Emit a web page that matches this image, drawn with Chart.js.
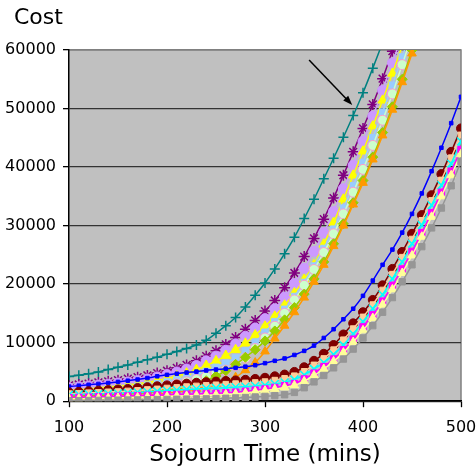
<!DOCTYPE html>
<html lang="en">
<head>
  <meta charset="UTF-8">
  <title>Cost vs Sojourn Time</title>
  <script src="https://cdn.jsdelivr.net/npm/chart.js"></script>
  <style>
    html, body { margin: 0; padding: 0; background: #fff; }
  </style>
</head>
<body>
  <canvas id="grafico" width="476" height="469"></canvas>
<script>
  // sojourn time, minutes
  const tempos = [100, 110, 120, 130, 140, 150, 160, 170, 180, 190,
    200, 210, 220, 230, 240, 250, 260, 270, 280, 290,
    300, 310, 320, 330, 340, 350, 360, 370, 380, 390,
    400, 410, 420, 430, 440, 450, 460, 470, 480, 490, 500];
  const ticksX = [100, 200, 300, 400, 500];
  const ticksY = [0, 10000, 20000, 30000, 40000, 50000, 60000];

  // early rising group (lines leave the top of the plot)
  const teal = [4200, 4450, 4700, 5000, 5400, 5800, 6200, 6650, 7100, 7500,
    8000, 8500, 9000, 9600, 10400, 11600, 12900, 14300, 16100, 18100,
    20200, 22600, 25200, 28000, 31200, 34500, 38000, 41500, 45100, 48800,
    52700, 56900, 61300, 66000];
  const roxo = [2700, 2850, 3000, 3200, 3400, 3600, 3850, 4100, 4400, 4800,
    5200, 5700, 6200, 6900, 7700, 8600, 9700, 10900, 12300, 13800,
    15400, 17200, 19400, 21900, 24700, 27800, 31100, 34700, 38600, 42600,
    46600, 50700, 55100, 59800, 64500];
  const lavanda = [2300, 2450, 2600, 2750, 2900, 3100, 3300, 3550, 3800, 4150,
    4550, 5000, 5500, 6100, 6900, 7700, 8700, 9800, 11100, 12500,
    14100, 15800, 17800, 20100, 22700, 25600, 28800, 32400, 36300, 40300,
    44400, 48700, 53100, 57800, 62600];
  const amarelo = [1900, 2000, 2150, 2300, 2450, 2600, 2800, 3000, 3250, 3550,
    3900, 4300, 4800, 5400, 6100, 6900, 7800, 8800, 9900, 11300,
    12800, 14500, 16400, 18500, 20800, 23300, 26800, 30500, 34500, 38600,
    42700, 47000, 51400, 56000, 60700, 65500];
  const azulClaro = [1600, 1700, 1800, 1900, 2050, 2200, 2350, 2550, 2750, 3000,
    3300, 3650, 4050, 4550, 5100, 5800, 6500, 7400, 8600, 10100,
    11800, 13600, 15700, 17900, 20300, 23100, 26100, 29400, 33000, 36800,
    40800, 45000, 49400, 54000, 58800, 63700];
  const menta = [1300, 1350, 1400, 1500, 1600, 1700, 1850, 2000, 2200, 2400,
    2650, 2950, 3300, 3700, 4200, 4800, 5300, 6100, 7400, 9000,
    10800, 12800, 15000, 17300, 19800, 22500, 25400, 28600, 32000, 35700,
    39600, 43700, 48000, 52500, 57500, 62500];
  const verde = [900, 950, 1000, 1050, 1100, 1200, 1300, 1400, 1550, 1700,
    1900, 2150, 2500, 2900, 3500, 4300, 5200, 6300, 7500, 8800,
    10300, 12000, 13900, 16000, 18300, 20900, 23800, 26900, 30300, 33900,
    37700, 41700, 45900, 50300, 55000, 60000, 65000];
  const laranja = [600, 620, 650, 700, 750, 800, 850, 950, 1050, 1200,
    1350, 1550, 1800, 2100, 2500, 2950, 3500, 4100, 5300, 6600,
    8500, 10700, 12900, 15200, 17700, 20400, 23300, 26500, 30000, 33600,
    37300, 41300, 45400, 49800, 54500, 59400, 64400];

  // late rising group
  const azul = [2500, 2650, 2800, 2950, 3100, 3300, 3500, 3700, 3950, 4250,
    4500, 4700, 4900, 5050, 5250, 5400, 5550, 5700, 5900, 6150,
    6500, 6900, 7300, 7900, 8600, 9500, 10800, 12300, 14000, 15800,
    18000, 20600, 23300, 25900, 28800, 32000, 35500, 39300, 43300, 47500,
    52000];
  const vinho = [1500, 1600, 1700, 1800, 1900, 2000, 2100, 2250, 2400, 2550,
    2700, 2850, 3000, 3150, 3250, 3350, 3450, 3550, 3650, 3800,
    4000, 4250, 4550, 5000, 5800, 6900, 8100, 9600, 11400, 13300,
    15200, 17300, 19800, 22600, 25500, 28600, 31800, 35200, 38800, 42600,
    46600];
  const pessego = [1300, 1350, 1450, 1500, 1600, 1650, 1750, 1850, 2000, 2100,
    2250, 2350, 2500, 2600, 2700, 2800, 2900, 3000, 3100, 3200,
    3350, 3600, 3900, 4350, 5100, 6200, 7300, 8800, 10500, 12400,
    14400, 16500, 19000, 21700, 24600, 27700, 30900, 34300, 37800, 41600,
    45500];
  const ciano = [1100, 1150, 1200, 1250, 1300, 1350, 1400, 1500, 1600, 1700,
    1800, 1900, 2000, 2100, 2200, 2250, 2300, 2400, 2500, 2600,
    2750, 2950, 3200, 3700, 4500, 5500, 6600, 8000, 9600, 11500,
    13600, 15800, 18200, 20900, 23800, 26900, 30100, 33500, 36900, 40600,
    44400];
  const magenta = [600, 650, 700, 750, 800, 850, 900, 950, 1000, 1050,
    1100, 1150, 1200, 1250, 1300, 1350, 1450, 1550, 1700, 1900,
    2100, 2350, 2650, 3000, 3800, 4800, 5900, 7200, 8800, 10600,
    12700, 14800, 17100, 19800, 22600, 25600, 28800, 32200, 35700, 39300,
    43000];
  const amareloClaro = [400, 420, 450, 480, 520, 560, 600, 650, 700, 750,
    800, 850, 900, 950, 1000, 1050, 1150, 1250, 1400, 1600,
    1800, 2050, 2350, 2700, 3400, 4400, 5500, 6800, 8300, 10100,
    12100, 14200, 16500, 19100, 21900, 24900, 28100, 31500, 35000, 38600,
    42200];
  const cinza = [100, 100, 120, 140, 160, 180, 200, 220, 250, 280,
    300, 330, 360, 380, 400, 450, 500, 560, 630, 720,
    820, 950, 1100, 1500, 2300, 3300, 4400, 5700, 7200, 8900,
    10800, 12900, 15200, 17700, 20400, 23300, 26400, 29600, 33000, 36800,
    41000];

  // arrow annotation, in data units
  const setaInicio = [345, 58300];
  const setaFim = [389, 50600];

  function pontos(valores) {
    return valores.map((v, i) => ({ x: tempos[i], y: v }));
  }

  function serie(valores, cor, estilo, raio, preenchimento, borda) {
    const fino = estilo === 'cross' || estilo === 'crossRot' || estilo === 'star';
    return {
      data: pontos(valores),
      borderColor: cor,
      borderWidth: 1.5,
      pointStyle: estilo,
      pointRadius: raio,
      pointBackgroundColor: preenchimento || cor,
      pointBorderColor: borda || cor,
      pointBorderWidth: fino ? 1.5 : 1,
      tension: 0.3
    };
  }

  const series = [
    serie(cinza, '#969696', 'rect', 4.5),
    serie(amareloClaro, '#FFFF99', 'triangle', 5),
    serie(magenta, '#FF00FF', 'rect', 4.5),
    serie(ciano, '#00FFFF', 'crossRot', 5.5),
    serie(pessego, '#FFCC99', 'rect', 4),
    serie(vinho, '#800000', 'circle', 4.5),
    serie(azul, '#0000FF', 'rect', 2.5),
    serie(laranja, '#FF9900', 'triangle', 5),
    serie(verde, '#99CC00', 'rectRot', 5),
    serie(menta, '#CCFFCC', 'circle', 5, '#CCFFCC', '#FF99CC'),
    serie(azulClaro, '#99CCFF', 'rect', 4.5),
    serie(amarelo, '#FFFF00', 'triangle', 5.5),
    serie(lavanda, '#CC99FF', 'circle', 5),
    serie(roxo, '#800080', 'star', 5.5),
    serie(teal, '#008080', 'cross', 5)
  ];

  const fundo = {
    id: 'fundo',
    beforeDraw(chart) {
      const { ctx, chartArea: a } = chart;
      ctx.save();
      ctx.fillStyle = '#C0C0C0';
      ctx.fillRect(a.left, a.top, a.right - a.left, a.bottom - a.top);
      ctx.strokeStyle = '#808080';
      ctx.lineWidth = 1.5;
      ctx.beginPath();
      ctx.moveTo(a.left, a.top);
      ctx.lineTo(a.right, a.top);
      ctx.lineTo(a.right, a.bottom);
      ctx.stroke();
      ctx.restore();
    },
    afterDraw(chart) {
      const { ctx, scales } = chart;
      const x0 = scales.x.getPixelForValue(setaInicio[0]);
      const y0 = scales.y.getPixelForValue(setaInicio[1]);
      const x1 = scales.x.getPixelForValue(setaFim[0]);
      const y1 = scales.y.getPixelForValue(setaFim[1]);
      const ang = Math.atan2(y1 - y0, x1 - x0);
      ctx.save();
      ctx.strokeStyle = '#000';
      ctx.fillStyle = '#000';
      ctx.lineWidth = 1.5;
      ctx.beginPath();
      ctx.moveTo(x0, y0);
      ctx.lineTo(x1 - 6 * Math.cos(ang), y1 - 6 * Math.sin(ang));
      ctx.stroke();
      ctx.beginPath();
      ctx.moveTo(x1, y1);
      ctx.lineTo(x1 - 10 * Math.cos(ang - 0.35), y1 - 10 * Math.sin(ang - 0.35));
      ctx.lineTo(x1 - 10 * Math.cos(ang + 0.35), y1 - 10 * Math.sin(ang + 0.35));
      ctx.closePath();
      ctx.fill();
      // y axis caption
      ctx.font = '22px "DejaVu Sans"';
      ctx.textAlign = 'left';
      ctx.textBaseline = 'middle';
      ctx.fillText('Cost', 14, 18);
      ctx.restore();
    }
  };

  Chart.defaults.font.family = '"DejaVu Sans", sans-serif';
  Chart.defaults.color = '#000';

  new Chart(document.getElementById('grafico'), {
    type: 'line',
    data: { datasets: series },
    options: {
      responsive: false,
      animation: false,
      layout: { padding: { top: 50, left: 5, right: 15, bottom: 0 } },
      plugins: { legend: { display: false }, tooltip: { enabled: false } },
      scales: {
        x: {
          type: 'linear',
          min: 100,
          max: 500,
          afterBuildTicks: (s) => { s.ticks = ticksX.map(v => ({ value: v })); },
          afterFit: (s) => { s.paddingLeft = 0; s.paddingRight = 0; },
          ticks: { font: { size: 16 }, padding: 11, callback: (v) => String(v) },
          grid: { drawOnChartArea: false, drawTicks: true, tickLength: 6, tickColor: '#000', tickWidth: 1.3 },
          border: { display: true, color: '#000', width: 1.5 },
          title: { display: true, text: 'Sojourn Time (mins)', font: { size: 23 }, padding: { top: -7, bottom: 0 } }
        },
        y: {
          min: 0,
          max: 60000,
          afterBuildTicks: (s) => { s.ticks = ticksY.map(v => ({ value: v })); },
          afterFit: (s) => { s.width = 64; },
          ticks: { font: { size: 16 }, padding: 7, callback: (v) => String(v) },
          grid: {
            color: (c) => c.tick && c.tick.value === 60000 ? '#808080' : '#333',
            lineWidth: 1.3,
            tickLength: 6,
            tickColor: '#000',
            tickWidth: 1.3
          },
          border: { display: true, color: '#000', width: 1.5 }
        }
      }
    },
    plugins: [fundo]
  });
</script>
</body>
</html>
